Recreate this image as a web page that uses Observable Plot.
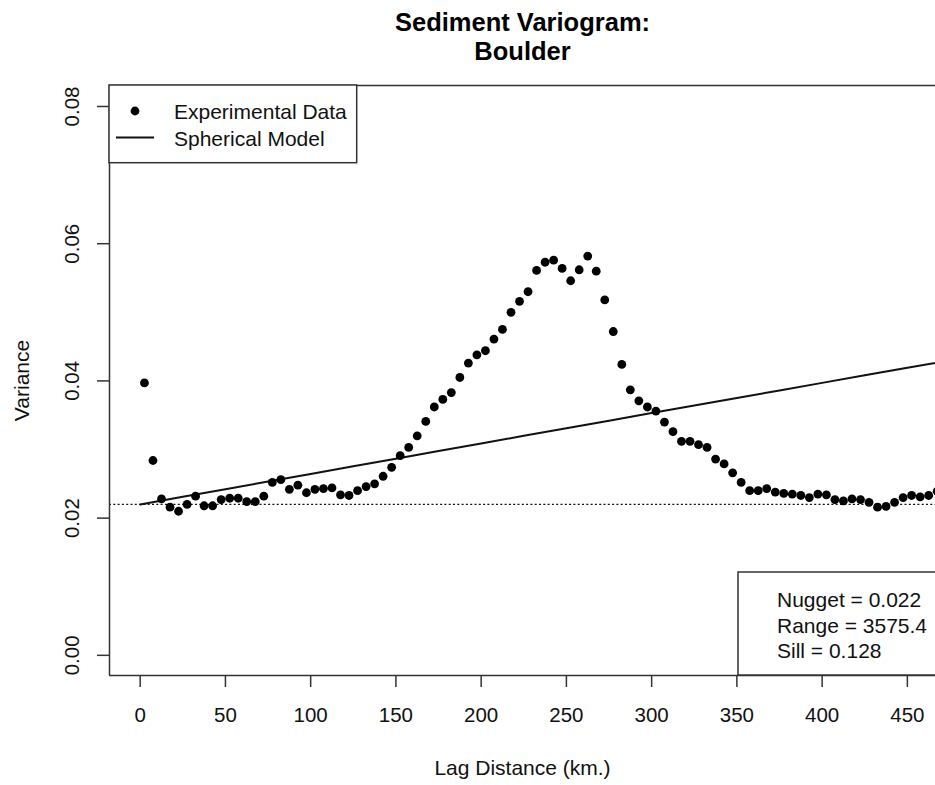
<!DOCTYPE html>
<html>
<head>
<meta charset="utf-8">
<script src="https://cdn.jsdelivr.net/npm/d3@7"></script>
<script src="https://cdn.jsdelivr.net/npm/@observablehq/plot@0.6"></script>
<style>
  html, body { margin: 0; padding: 0; background: #fff; }
  #chart svg { display: block; }
</style>
</head>
<body>
<div id="chart"></div>
<script>
// Empirical semivariogram of sediment samples, Boulder, with a fitted spherical model.
const titleLines = ["Sediment Variogram:", "Boulder"];
const xLabel = "Lag Distance (km.)";
const yLabel = "Variance";
const xTicks = [0, 50, 100, 150, 200, 250, 300, 350, 400, 450];
const yTicks = [0.00, 0.02, 0.04, 0.06, 0.08];
const legendLabels = ["Experimental Data", "Spherical Model"];

// lag bin centres (km)
const lagKm = [
  2.5, 7.5, 12.5, 17.5, 22.5, 27.5, 32.5, 37.5, 42.5, 47.5,
  52.5, 57.5, 62.5, 67.5, 72.5, 77.5, 82.5, 87.5, 92.5, 97.5,
  102.5, 107.5, 112.5, 117.5, 122.5, 127.5, 132.5, 137.5, 142.5, 147.5,
  152.5, 157.5, 162.5, 167.5, 172.5, 177.5, 182.5, 187.5, 192.5, 197.5,
  202.5, 207.5, 212.5, 217.5, 222.5, 227.5, 232.5, 237.5, 242.5, 247.5,
  252.5, 257.5, 262.5, 267.5, 272.5, 277.5, 282.5, 287.5, 292.5, 297.5,
  302.5, 307.5, 312.5, 317.5, 322.5, 327.5, 332.5, 337.5, 342.5, 347.5,
  352.5, 357.5, 362.5, 367.5, 372.5, 377.5, 382.5, 387.5, 392.5, 397.5,
  402.5, 407.5, 412.5, 417.5, 422.5, 427.5, 432.5, 437.5, 442.5, 447.5,
  452.5, 457.5, 462.5, 467.5
];

// experimental semivariance per lag bin
const semivariance = [
  0.0397, 0.0284, 0.0228, 0.0216, 0.0210, 0.0220, 0.0232, 0.0218, 0.0218, 0.0227,
  0.0229, 0.0229, 0.0224, 0.0224, 0.0232, 0.0252, 0.0256, 0.0242, 0.0248, 0.0237,
  0.0242, 0.0243, 0.0244, 0.0234, 0.0233, 0.0240, 0.0246, 0.0250, 0.0261, 0.0274,
  0.0291, 0.0303, 0.0320, 0.0341, 0.0362, 0.0373, 0.0383, 0.0405, 0.0426, 0.0438,
  0.0444, 0.0461, 0.0475, 0.0500, 0.0516, 0.0530, 0.0561, 0.0573, 0.0576, 0.0564,
  0.0546, 0.0562, 0.0582, 0.0560, 0.0518, 0.0472, 0.0424, 0.0387, 0.0371, 0.0362,
  0.0356, 0.0340, 0.0326, 0.0312, 0.0312, 0.0307, 0.0303, 0.0286, 0.0279, 0.0266,
  0.0252, 0.0240, 0.0240, 0.0243, 0.0238, 0.0236, 0.0235, 0.0233, 0.0230, 0.0235,
  0.0234, 0.0227, 0.0225, 0.0228, 0.0227, 0.0223, 0.0216, 0.0217, 0.0223, 0.0230,
  0.0233, 0.0231, 0.0233, 0.0239
];

// fitted spherical model parameters
const nugget = 0.022;
const rangeKm = 3575.4;
const sill = 0.128;
const statsLines = [`Nugget = ${nugget}`, `Range = ${rangeKm}`, `Sill = ${sill}`];

// lags at which the model curve is evaluated
const modelLags = [0, 25, 50, 75, 100, 125, 150, 175, 200, 225, 250, 275, 300, 325, 350, 375, 400, 425, 450, 475];

function spherical(h) {
  if (h >= rangeKm) return sill;
  const r = h / rangeKm;
  return nugget + (sill - nugget) * (1.5 * r - 0.5 * r * r * r);
}

const points = lagKm.map((h, i) => ({h, v: semivariance[i]}));
const model = modelLags.map(h => ({h, v: spherical(h)}));

const font = "'Liberation Sans', Arial, Helvetica, sans-serif";
const ink = "#111";
const xDomain = [-18, 466.5];
const yDomain = [-0.00294, 0.08306];

const chart = Plot.plot({
  width: 935,
  height: 785,
  marginLeft: 109,
  marginRight: 0,
  marginTop: 85,
  marginBottom: 110,
  style: {fontFamily: font, fontSize: "20.5px", color: ink, background: "#fff", overflow: "hidden"},
  x: {domain: xDomain},
  y: {domain: yDomain},
  marks: [
    // nugget level
    Plot.ruleY([nugget], {stroke: ink, strokeWidth: 1.2, strokeDasharray: "2,2.3"}),
    // spherical model
    Plot.line(model, {x: "h", y: "v", stroke: ink, strokeWidth: 2, clip: true}),
    // experimental points
    Plot.dot(points, {x: "h", y: "v", r: 4.4, fill: "#000", stroke: "none"}),
    // plot box (top, bottom, left)
    Plot.ruleY([yDomain[1], yDomain[0]], {stroke: "#333", strokeWidth: 1.5}),
    Plot.ruleX([xDomain[0]], {stroke: "#333", strokeWidth: 1.5}),
    // x axis
    Plot.axisX({ticks: xTicks, tickSize: 12, tickPadding: 20, tickFormat: d => String(d),
      label: null, stroke: "#333", strokeWidth: 1.5, fontSize: 20.5}),
    // y axis ticks and rotated labels
    Plot.axisY({ticks: yTicks, tickSize: 12, tickFormat: () => "", label: null, stroke: "#333", strokeWidth: 1.5}),
    Plot.text(yTicks, {y: d => d, text: d => d3.format(".2f")(d), frameAnchor: "left", dx: -37,
      rotate: -90, textAnchor: "middle", lineAnchor: "middle", fontSize: 20.5, fill: ink}),
    // axis titles
    Plot.text([xLabel], {frameAnchor: "bottom", dy: 93, textAnchor: "middle", lineAnchor: "middle", fontSize: 21, fill: ink}),
    Plot.text([yLabel], {frameAnchor: "left", dx: -87, rotate: -90, textAnchor: "middle", lineAnchor: "middle", fontSize: 21, fill: ink}),
    // title
    Plot.text([titleLines.join("\n")], {frameAnchor: "top", dy: -49, textAnchor: "middle", lineAnchor: "middle",
      lineHeight: 1.1, fontSize: 25.5, fontWeight: "bold", fill: "#000"})
  ]
});

const svg = d3.select(chart);

// legend, top-left
const legend = svg.append("g").attr("font-family", font).attr("font-size", 21)
  .attr("fill", ink).attr("text-anchor", "start");
legend.append("rect").attr("x", 109).attr("y", 85).attr("width", 247.7).attr("height", 77.7)
  .attr("fill", "#fff").attr("stroke", "#333").attr("stroke-width", 1.5);
legend.append("circle").attr("cx", 135).attr("cy", 111).attr("r", 4.4).attr("fill", "#000");
legend.append("line").attr("x1", 116).attr("x2", 154).attr("y1", 137.5).attr("y2", 137.5)
  .attr("stroke", ink).attr("stroke-width", 2);
legendLabels.forEach((t, i) => {
  legend.append("text").attr("x", 174).attr("y", 118.5 + 27 * i).attr("text-anchor", "start").text(t);
});

// model parameters, bottom-right
const stats = svg.append("g").attr("font-family", font).attr("font-size", 21)
  .attr("fill", ink).attr("text-anchor", "start");
stats.append("rect").attr("x", 738).attr("y", 572).attr("width", 210).attr("height", 103)
  .attr("fill", "#fff").attr("stroke", "#333").attr("stroke-width", 1.5);
statsLines.forEach((t, i) => {
  stats.append("text").attr("x", 777).attr("y", 606.7 + 25.8 * i).attr("text-anchor", "start").text(t);
});

document.getElementById("chart").appendChild(chart);
</script>
</body>
</html>
